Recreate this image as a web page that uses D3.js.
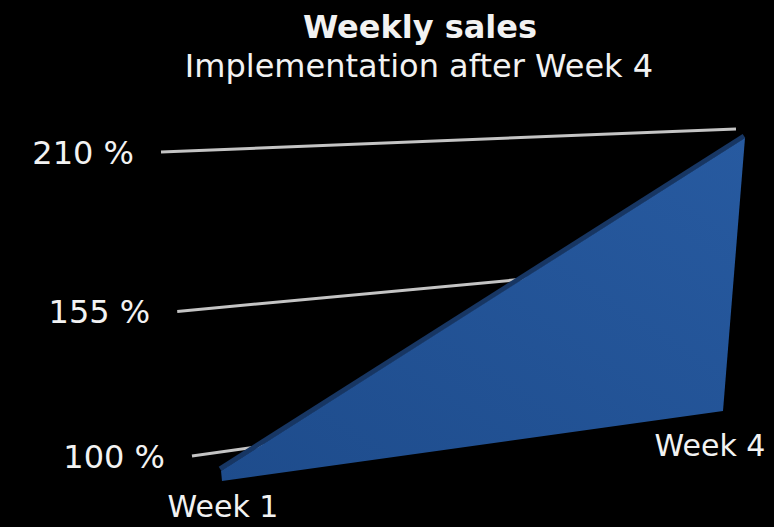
<!DOCTYPE html>
<html>
<head>
<meta charset="utf-8">
<script src="https://cdn.jsdelivr.net/npm/d3@7"></script>
<style>
  html, body { margin:0; padding:0; background:#000; }
  svg { display:block; }
  text { font-family:"DejaVu Sans", Verdana, sans-serif; fill:#f2f2f2; }
</style>
</head>
<body>
<svg id="chart"></svg>
<script>
var weeks = ["Week 1", "Week 4"];
var sales = [100, 210];
var tickValues = [100, 155, 210];
var tickLabels = ["100 %", "155 %", "210 %"];
var title = "Weekly sales",
    subtitle = "Implementation after Week 4";

var width = 774, height = 527;

var svg = d3.select('#chart')
    .attr('width', width)
    .attr('height', height);

// unit scales, then projected through the perspective planes below
var x = d3.scalePoint().domain(weeks).range([0, 1]);
var y = d3.scaleLinear().domain([96, 210]).range([0, 1]);

// square -> quad (corners: u0v0, u1v0, u1v1, u0v1)
function plane(q) {
  var x0=q[0][0], y0=q[0][1], x1=q[1][0], y1=q[1][1],
      x2=q[2][0], y2=q[2][1], x3=q[3][0], y3=q[3][1];
  var dx1=x1-x2, dx2=x3-x2, dx3=x0-x1+x2-x3,
      dy1=y1-y2, dy2=y3-y2, dy3=y0-y1+y2-y3;
  var den = dx1*dy2 - dx2*dy1;
  var g = (dx3*dy2 - dx2*dy3)/den,
      h = (dx1*dy3 - dx3*dy1)/den;
  var a = x1-x0+g*x1, b = x3-x0+h*x3, c = x0,
      d = y1-y0+g*y1, e = y3-y0+h*y3, f = y0;
  return function(u, v) {
    var w = g*u + h*v + 1;
    return [(a*u + b*v + c)/w, (d*u + e*v + f)/w];
  };
}

var front = plane([[222,481],[723,411],[745,138],[192,162]]);
var back  = plane([[193,466],[717,390],[736,129],[161,152]]);

var line = d3.line();

// gridlines on the back wall
var grid = svg.append('g').attr('class', 'grid');
grid.selectAll('line')
  .data(tickValues)
  .enter().append('line')
    .attr('x1', function(d){ return back(0, y(d))[0]; })
    .attr('y1', function(d){ return back(0, y(d))[1]; })
    .attr('x2', function(d){ return back(1, y(d))[0]; })
    .attr('y2', function(d){ return back(1, y(d))[1]; })
    .style('stroke', '#c4c4c4')
    .style('stroke-width', 3);

grid.selectAll('text')
  .data(tickValues)
  .enter().append('text')
    .attr('x', function(d){ return back(0, y(d))[0] - 27; })
    .attr('y', function(d){ return back(0, y(d))[1]; })
    .attr('dy', '0.36em')
    .attr('text-anchor', 'end')
    .style('font-size', '32px')
    .text(function(d, i){ return tickLabels[i]; });

// area slab
var defs = svg.append('defs');
var grad = defs.append('linearGradient')
    .attr('id', 'face')
    .attr('x1', '0%').attr('y1', '100%')
    .attr('x2', '100%').attr('y2', '0%');
grad.append('stop').attr('offset', '0%').attr('stop-color', '#1e4c8c');
grad.append('stop').attr('offset', '100%').attr('stop-color', '#275aa0');

var pts = weeks.map(function(w, i){ return [x(w), sales[i]]; });
var topEdge = pts.map(function(p){ return front(p[0], y(p[1])); });
var floorEdge = pts.map(function(p){ return front(p[0], y(y.domain()[0])); }).reverse();

svg.append('path')
    .datum(topEdge)
    .attr('d', line)
    .attr('transform', 'translate(-1,-2)')
    .style('fill', 'none')
    .style('stroke', '#173663')
    .style('stroke-width', 5);

svg.append('path')
    .datum(topEdge.concat(floorEdge))
    .attr('d', function(d){ return line(d) + 'Z'; })
    .style('fill', 'url(#face)');

// category labels
var labelDx = d3.scaleLinear().domain([0, 1]).range([1, -13]);
var labelDy = d3.scaleLinear().domain([0, 1]).range([36, 45]);

svg.append('g').selectAll('text')
  .data(weeks)
  .enter().append('text')
    .attr('x', function(d){ return front(x(d), 0)[0] + labelDx(x(d)); })
    .attr('y', function(d){ return front(x(d), 0)[1] + labelDy(x(d)); })
    .attr('text-anchor', 'middle')
    .style('font-size', '30px')
    .text(function(d){ return d; });

// titles
svg.append('text')
    .attr('x', 420).attr('y', 38)
    .attr('text-anchor', 'middle')
    .style('font-size', '32px')
    .style('font-weight', 'bold')
    .text(title);

svg.append('text')
    .attr('x', 419).attr('y', 77)
    .attr('text-anchor', 'middle')
    .style('font-size', '32px')
    .text(subtitle);
</script>
</body>
</html>
